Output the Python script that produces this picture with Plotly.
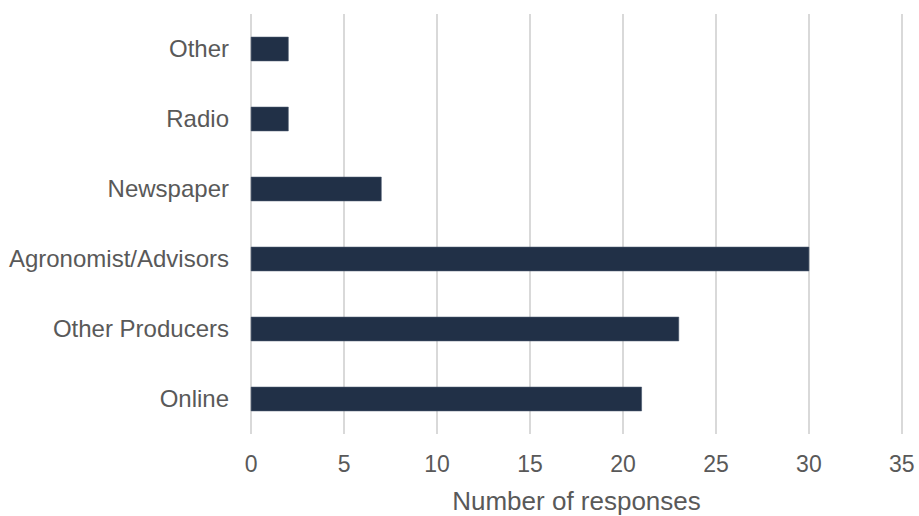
import plotly.graph_objects as go

categories = ["Online", "Other Producers", "Agronomist/Advisors", "Newspaper", "Radio", "Other"]
values = [21, 23, 30, 7, 2, 2]
x_ticks = [0, 5, 10, 15, 20, 25, 30, 35]

fig = go.Figure(go.Bar(
    x=values, y=categories, orientation="h",
    marker=dict(color="#213047", line=dict(color="#44546a", width=0.6)),
))

fig.update_layout(
    width=919, height=516,
    margin=dict(l=250, r=16, t=14, b=82, autoexpand=False),
    paper_bgcolor="white", plot_bgcolor="white",
    font=dict(family="Liberation Sans, Arial, sans-serif", color="#595959", size=24),
    bargap=0.66,
    showlegend=False,
    xaxis=dict(
        range=[-0.06, 35.06], tickvals=x_ticks, showgrid=True, gridcolor="#d9d9d9", gridwidth=1.5,
        zeroline=False, showline=False, ticks="", automargin=False,
        tickfont=dict(size=23, color="#595959"), ticklabelstandoff=14,
        title=dict(text="Number of responses", font=dict(size=26, color="#595959"), standoff=17),
    ),
    yaxis=dict(
        showgrid=False, zeroline=False, showline=False, ticks="", automargin=False,
        tickfont=dict(size=24, color="#595959"), ticklabelstandoff=20,
    ),
)

fig.write_html(
    "out.html",
    config={"displayModeBar": False},
    post_script="document.body.style.margin='0';document.body.style.overflow='hidden';",
)
